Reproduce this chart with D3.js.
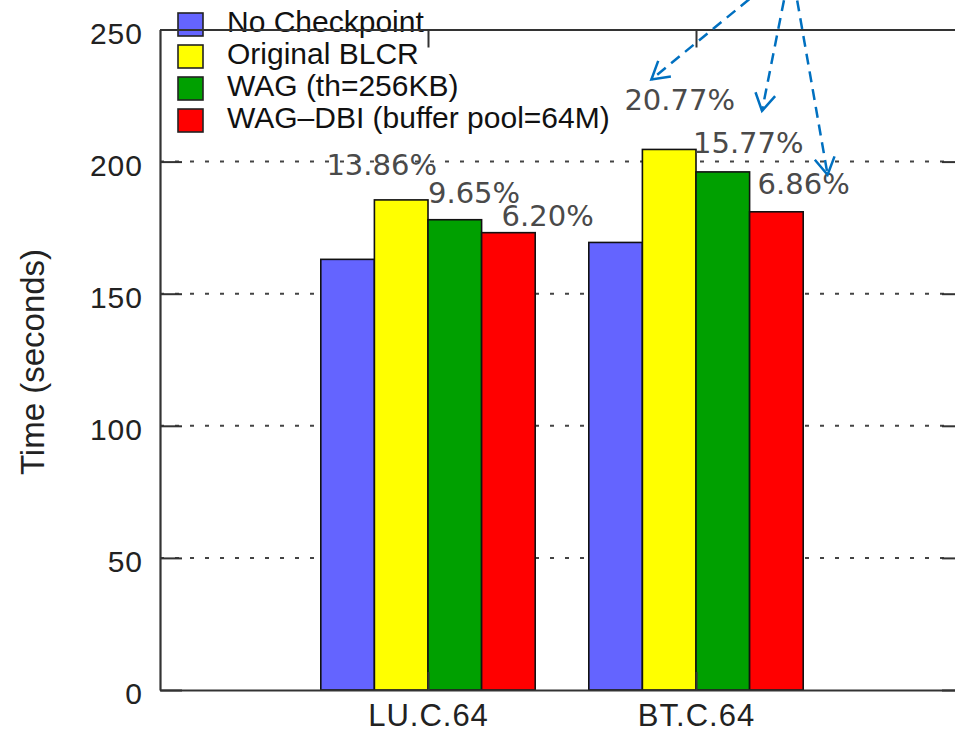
<!DOCTYPE html>
<html>
<head>
<meta charset="utf-8">
<script src="https://cdn.jsdelivr.net/npm/d3@7"></script>
<style>
  html, body { margin: 0; padding: 0; background: #fff; }
  svg { display: block; }
</style>
</head>
<body>
<script>
// Benchmarks on the x axis
const categories = ["LU.C.64", "BT.C.64"];

// Series names (legend order)
const seriesNames = ["No Checkpoint", "Original BLCR", "WAG (th=256KB)", "WAG\u2013DBI (buffer pool=64M)"];

// Execution time in seconds, one value per benchmark
const noCheckpoint = [163.0, 169.4];
const originalBLCR = [185.5, 204.6];
const wagTh256     = [178.0, 196.1];
const wagDbi       = [173.1, 181.0];

// Overhead relative to "No Checkpoint", printed above the bars
const blcrOverhead = ["13.86%", "20.77%"];
const wagOverhead  = ["9.65%", "15.77%"];
const dbiOverhead  = ["6.20%", "6.86%"];

// Y axis ticks
const yTicks = [0, 50, 100, 150, 200, 250];

const seriesValues = [noCheckpoint, originalBLCR, wagTh256, wagDbi];
const overheadBySeries = [null, blcrOverhead, wagOverhead, dbiOverhead];

// ---- layout & style ----
const W = 955, H = 732;
const colors = ["#6464ff", "#ffff00", "#00a000", "#ff0000"];
const axisColor = "#333";
const sans = "'Liberation Sans', Arial, Helvetica, sans-serif";
const labelFont = "'DejaVu Sans', sans-serif";

// hand-placed offsets [dx from bar left, dy from bar top] for the overhead labels
const labelOffsets = [
  null,
  [[-48, -25], [-18, -39]],
  [[0, -17], [-3, -19]],
  [[20, -7], [8, -18]]
];
// arrow tips relative to a label's left/baseline, plus the common arrow origin
const arrowTips = [[27, -31], [69, -42], [70, -19]];
const arrowOrigin = [791, -35];

const svg = d3.select("body").append("svg")
  .attr("width", W).attr("height", H)
  .style("font-family", sans);

const x = d3.scaleLinear().domain([0, 3]).range([160, 964]);
const y = d3.scaleLinear().domain([0, 250]).range([690, 29.5]);
const unit = x(1) - x(0);
const inner = d3.scaleBand().domain(d3.range(seriesNames.length))
  .range([-0.4 * unit, 0.4 * unit]);

// dotted grid lines
svg.append("g")
  .selectAll("line")
  .data(yTicks.filter(t => t > 0 && t < 250))
  .join("line")
  .attr("x1", x(0)).attr("x2", x(3))
  .attr("y1", d => y(d)).attr("y2", d => y(d))
  .attr("stroke", "#444")
  .attr("stroke-width", 2)
  .attr("stroke-dasharray", "4,11");

// bars
const groups = svg.append("g")
  .selectAll("g")
  .data(categories)
  .join("g")
  .attr("transform", (d, i) => `translate(${x(i + 1)},0)`);

groups.selectAll("rect")
  .data((d, ci) => seriesValues.map((vals, si) => ({ si, ci, v: vals[ci] })))
  .join("rect")
  .attr("x", d => inner(d.si))
  .attr("y", d => y(d.v))
  .attr("width", inner.bandwidth())
  .attr("height", d => y(0) - y(d.v))
  .attr("fill", d => colors[d.si])
  .attr("stroke", "#111")
  .attr("stroke-width", 1.6);

// overhead labels
const labelData = [];
overheadBySeries.forEach((labels, si) => {
  if (!labels) return;
  labels.forEach((txt, ci) => {
    const [dx, dy] = labelOffsets[si][ci];
    labelData.push({
      txt, si, ci,
      lx: x(ci + 1) + inner(si) + dx,
      ly: y(seriesValues[si][ci]) + dy
    });
  });
});
svg.append("g")
  .selectAll("text")
  .data(labelData)
  .join("text")
  .attr("x", d => d.lx)
  .attr("y", d => d.ly)
  .attr("font-family", labelFont)
  .attr("font-size", 29)
  .attr("fill", "#4a4a4a")
  .text(d => d.txt);

// legend
const legend = svg.append("g").attr("transform", "translate(178,32)");
const rows = legend.selectAll("g")
  .data(seriesNames)
  .join("g")
  .attr("transform", (d, i) => `translate(0,${i * 32})`);
rows.append("rect")
  .attr("x", 0).attr("y", -19)
  .attr("width", 25).attr("height", 23)
  .attr("fill", (d, i) => colors[i])
  .attr("stroke", "#222").attr("stroke-width", 1.6);
rows.append("text")
  .attr("x", 49).attr("y", 0)
  .attr("font-size", 30)
  .attr("fill", "#111")
  .text(d => d);

// axes
function styleAxis(g) {
  g.selectAll(".domain").attr("stroke", axisColor).attr("stroke-width", 2.2);
  g.selectAll(".tick line").attr("stroke", axisColor).attr("stroke-width", 2);
  g.selectAll(".tick text").attr("fill", "#222").attr("font-family", sans);
}

svg.append("g")
  .attr("transform", `translate(${x(0)},0)`)
  .call(d3.axisLeft(y).tickValues(yTicks).tickSize(-22).tickSizeOuter(0).tickPadding(17))
  .call(g => g.selectAll(".tick text").attr("font-size", 30).attr("dy", "0.46em").attr("letter-spacing", 1))
  .call(styleAxis);

svg.append("g")
  .attr("transform", `translate(${x(3)},0)`)
  .call(d3.axisRight(y).tickValues(yTicks).tickSize(-22).tickSizeOuter(0).tickFormat(""))
  .call(styleAxis);

svg.append("g")
  .attr("transform", `translate(0,${y(0)})`)
  .call(d3.axisBottom(x).tickValues([1, 2]).tickFormat(d => categories[d - 1])
    .tickSize(-18).tickSizeOuter(0).tickPadding(14))
  .call(g => g.selectAll(".tick text").attr("font-size", 31).attr("letter-spacing", 1))
  .call(styleAxis);

svg.append("g")
  .attr("transform", `translate(0,${y(250)})`)
  .call(d3.axisTop(x).tickValues([1, 2]).tickSize(-18).tickSizeOuter(0).tickFormat(""))
  .call(styleAxis);

// y axis title
svg.append("text")
  .attr("transform", "translate(44,362) rotate(-90)")
  .attr("text-anchor", "middle")
  .attr("font-size", 33)
  .attr("fill", "#222")
  .text("Time (seconds)");

// dashed call-out arrows pointing at the BT.C.64 overheads
const defs = svg.append("defs");
defs.append("marker")
  .attr("id", "vhead")
  .attr("markerUnits", "userSpaceOnUse")
  .attr("viewBox", "-22 -14 26 28")
  .attr("refX", 0).attr("refY", 0)
  .attr("markerWidth", 26).attr("markerHeight", 28)
  .attr("orient", "auto")
  .append("path")
  .attr("d", "M-17,-10 L0,0 L-17,10")
  .attr("fill", "none")
  .attr("stroke", "#0070c0")
  .attr("stroke-width", 2.5)
  .attr("stroke-dasharray", "none");

const btLabels = labelData.filter(d => d.ci === 1).sort((a, b) => a.si - b.si);
svg.append("g")
  .selectAll("line")
  .data(btLabels)
  .join("line")
  .attr("x1", arrowOrigin[0]).attr("y1", arrowOrigin[1])
  .attr("x2", (d, i) => d.lx + arrowTips[i][0])
  .attr("y2", (d, i) => d.ly + arrowTips[i][1])
  .attr("stroke", "#0070c0")
  .attr("stroke-width", 2.5)
  .attr("stroke-dasharray", "11,7")
  .attr("marker-end", "url(#vhead)");
</script>
</body>
</html>
